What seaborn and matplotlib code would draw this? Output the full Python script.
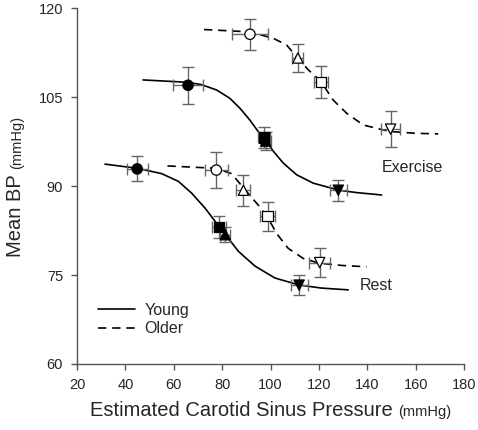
import matplotlib
matplotlib.use("Agg")
import matplotlib.pyplot as plt
from matplotlib.lines import Line2D
import pandas as pd
import seaborn as sns

shapes = ["o", "s", "^", "v"]

young_rest_x = [44.9, 78.7, 81.3, 111.8]
young_rest_y = [92.9, 83.1, 81.8, 73.3]
young_rest_xerr = [4.3, 3.0, 2.0, 3.5]
young_rest_yerr = [2.1, 1.8, 1.3, 1.7]

young_ex_x = [65.9, 97.2, 98.0, 128.0]
young_ex_y = [107.0, 98.2, 97.6, 89.3]
young_ex_xerr = [6.2, 2.5, 2.0, 3.5]
young_ex_yerr = [3.1, 1.8, 1.5, 1.8]

older_rest_x = [77.6, 98.8, 88.8, 120.3]
older_rest_y = [92.7, 84.9, 89.3, 77.1]
older_rest_xerr = [4.7, 3.0, 2.9, 4.3]
older_rest_yerr = [3.0, 2.5, 2.6, 2.5]

older_ex_x = [91.5, 120.8, 111.3, 149.6]
older_ex_y = [115.6, 107.6, 111.6, 99.6]
older_ex_xerr = [7.4, 3.0, 2.3, 4.0]
older_ex_yerr = [2.6, 2.7, 2.3, 3.0]

# fitted curves, points
young_rest_curve_x = [31.6, 44.9, 55.0, 61.9, 67.4, 72.9, 78.7, 81.4, 86.7,
                      93.6, 101.8, 112.0, 121.1, 132.1]
young_rest_curve_y = [93.7, 93.0, 92.1, 90.8, 88.8, 86.3, 83.2, 81.8, 79.0,
                      76.5, 74.5, 73.3, 72.8, 72.5]

young_ex_curve_x = [47.3, 65.7, 71.5, 77.7, 83.2, 87.4, 91.5, 94.9, 97.3,
                    101.1, 105.2, 110.8, 117.6, 128.3, 135.6, 145.9]
young_ex_curve_y = [107.9, 107.5, 107.1, 106.2, 104.8, 103.1, 101.1, 99.2,
                    98.2, 95.9, 93.9, 91.9, 90.5, 89.3, 88.9, 88.5]

older_rest_curve_x = [57.4, 77.3, 83.9, 89.0, 94.9, 98.6, 102.5, 107.3,
                      113.5, 120.1, 130.0, 139.7]
older_rest_curve_y = [93.4, 93.0, 92.1, 89.6, 86.8, 84.9, 82.0, 79.5,
                      77.8, 77.0, 76.6, 76.4]

older_ex_curve_x = [72.5, 91.5, 101.2, 106.6, 111.2, 115.6, 120.7, 125.9,
                    131.4, 138.3, 145.2, 149.6, 160.0, 169.3]
older_ex_curve_y = [116.4, 116.0, 114.9, 113.8, 111.6, 109.6, 107.7, 104.5,
                    102.3, 100.3, 99.6, 99.2, 98.9, 98.8]

x_ticks = [20, 40, 60, 80, 100, 120, 140, 160, 180]
y_ticks = [60, 75, 90, 105, 120]

sns.set_style("ticks")
plt.rcParams["font.family"] = ["Liberation Sans", "DejaVu Sans"]

fig = plt.figure(figsize=(4.78, 4.30), dpi=100)
ax = fig.add_axes([0.161, 0.1535, 0.810, 0.8275])

curves = [
    (young_rest_curve_x, young_rest_curve_y, "-"),
    (young_ex_curve_x, young_ex_curve_y, "-"),
    (older_rest_curve_x, older_rest_curve_y, (0, (5, 3.5))),
    (older_ex_curve_x, older_ex_curve_y, (0, (5, 3.5))),
]
for cx, cy, ls in curves:
    sns.lineplot(x=cx, y=cy, sort=False, estimator=None, color="black",
                 linewidth=1.2, linestyle=ls, ax=ax, zorder=2)

sets = [
    ("Young", young_rest_x, young_rest_y, young_rest_xerr, young_rest_yerr),
    ("Young", young_ex_x, young_ex_y, young_ex_xerr, young_ex_yerr),
    ("Older", older_rest_x, older_rest_y, older_rest_xerr, older_rest_yerr),
    ("Older", older_ex_x, older_ex_y, older_ex_xerr, older_ex_yerr),
]
rows = []
for group, xs, ys, xe, ye in sets:
    ax.errorbar(xs, ys, xerr=xe, yerr=ye, fmt="none", ecolor="#666666",
                elinewidth=1.0, capsize=4, capthick=1.0, zorder=3)
    for shape, xv, yv in zip(shapes, xs, ys):
        rows.append({"x": xv, "y": yv, "group": group, "shape": shape})
points = pd.DataFrame(rows)

sns.scatterplot(data=points, x="x", y="y", hue="group", style="shape",
                palette={"Young": "black", "Older": "white"},
                markers={m: m for m in shapes}, s=55, edgecolor="black",
                linewidth=0.9, legend=False, ax=ax, zorder=4)

ax.set_xlim(20, 180)
ax.set_ylim(60, 120)
ax.set_xticks(x_ticks)
ax.set_yticks(y_ticks)
ax.tick_params(direction="out", length=4, width=1, color="#555555",
               labelsize=10.5, pad=6)
for side in ["left", "bottom"]:
    ax.spines[side].set_color("#555555")
    ax.spines[side].set_linewidth(1)
sns.despine(ax=ax)
ax.set_xlabel("")
ax.set_ylabel("")

ax.text(146, 93.2, "Exercise", fontsize=11.5, ha="left", va="center")
ax.text(137, 73.3, "Rest", fontsize=11.5, ha="left", va="center")

handles = [Line2D([], [], color="black", lw=1.2, ls="-"),
           Line2D([], [], color="black", lw=1.2, ls=(0, (5, 3.5)))]
ax.legend(handles, ["Young", "Older"], loc="lower left",
          bbox_to_anchor=(0.017, 0.038), frameon=False, fontsize=11.5,
          handlelength=2.3, handletextpad=0.6, labelspacing=0.2)

# axis titles with smaller unit text
fig.canvas.draw()
renderer = fig.canvas.get_renderer()
W, H = fig.bbox.width, fig.bbox.height

t1 = fig.text(0, 0, "Estimated Carotid Sinus Pressure ", fontsize=14.5,
              ha="left", va="baseline")
t2 = fig.text(0, 0, "(mmHg)", fontsize=10.5, ha="left", va="baseline")
w1 = t1.get_window_extent(renderer).width
w2 = t2.get_window_extent(renderer).width
cx = (77 + 464) / 2
base = 1 - 416 / H
t1.set_position(((cx - (w1 + w2) / 2) / W, base))
t2.set_position(((cx - (w1 + w2) / 2 + w1) / W, base))

t3 = fig.text(0, 0, "Mean BP ", fontsize=14.5, rotation=90,
              rotation_mode="anchor", ha="left", va="baseline")
t4 = fig.text(0, 0, "(mmHg)", fontsize=10.5, rotation=90,
              rotation_mode="anchor", ha="left", va="baseline")
h3 = t3.get_window_extent(renderer).height
h4 = t4.get_window_extent(renderer).height
cy = 430 - (8 + 364) / 2
xb = 21 / W
t3.set_position((xb, (cy - (h3 + h4) / 2) / H))
t4.set_position((xb, (cy - (h3 + h4) / 2 + h3) / H))

fig.savefig("out.png", dpi=100)
